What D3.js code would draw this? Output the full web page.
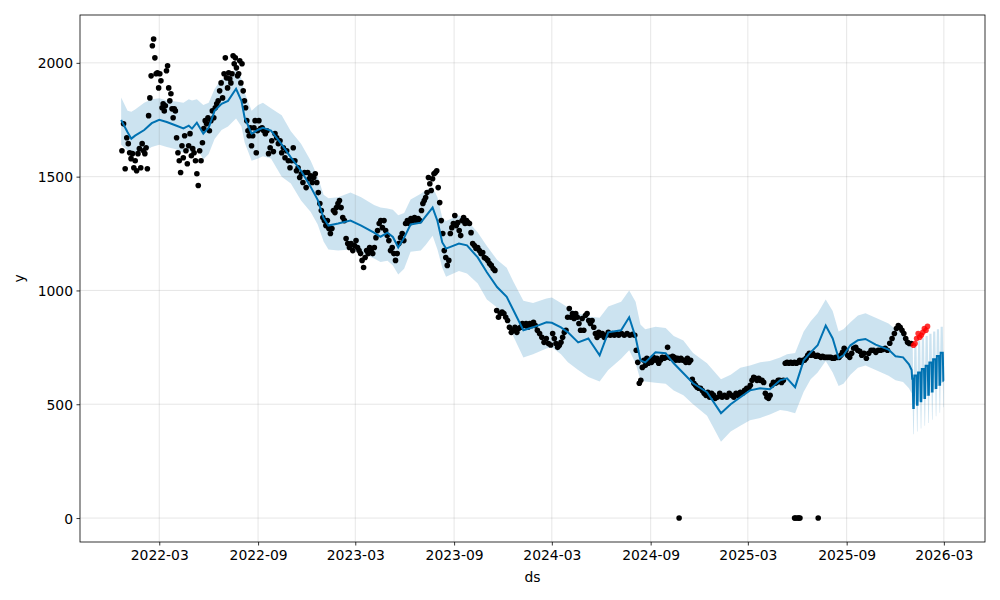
<!DOCTYPE html>
<html><head><meta charset="utf-8">
<script src="https://cdn.jsdelivr.net/npm/d3@7"></script>
<style>body{margin:0;background:#fff}svg{display:block}text{font-family:"DejaVu Sans",sans-serif;font-size:13.9px;fill:#000}</style>
</head><body><svg id="chart" width="1000" height="600"></svg>
<script>
// ---- fitted trend (history) ----
const trendDates = ["2021-12-20","2022-01-01","2022-01-08","2022-01-15","2022-02-01","2022-02-15","2022-03-01","2022-03-15","2022-04-01","2022-04-15","2022-04-25","2022-05-01","2022-05-10","2022-05-22","2022-06-01","2022-06-12","2022-06-25","2022-07-07","2022-07-22","2022-08-01","2022-08-07","2022-08-20","2022-09-01","2022-09-10","2022-09-25","2022-10-15","2022-11-01","2022-11-20","2022-12-08","2022-12-21","2023-01-01","2023-01-10","2023-01-28","2023-02-20","2023-03-12","2023-04-05","2023-04-17","2023-04-30","2023-05-10","2023-05-20","2023-05-31","2023-06-12","2023-07-01","2023-07-10","2023-07-23","2023-08-01","2023-08-10","2023-08-17","2023-09-10","2023-09-25","2023-10-15","2023-11-01","2023-11-20","2023-12-08","2023-12-20","2024-01-08","2024-01-26","2024-02-20","2024-03-01","2024-03-18","2024-03-31","2024-04-19","2024-05-08","2024-05-29","2024-06-14","2024-07-08","2024-07-23","2024-08-04","2024-08-13","2024-08-22","2024-09-10","2024-09-29","2024-10-14","2024-11-01","2024-11-19","2024-12-15","2025-01-10","2025-01-28","2025-02-15","2025-03-05","2025-03-24","2025-04-11","2025-04-30","2025-05-13","2025-05-28","2025-06-13","2025-06-26","2025-07-09","2025-07-24","2025-08-06","2025-08-17","2025-08-26","2025-09-08","2025-09-22","2025-10-06","2025-10-25","2025-11-18","2025-12-01","2025-12-15","2025-12-26","2025-12-31"];
const trendYhat = [1749,1695,1667,1680,1705,1735,1750,1740,1725,1712,
1724,1711,1737,1689,1715,1789,1820,1833,1886,1833,
1759,1689,1706,1715,1702,1642,1585,1526,1455,1398,
1318,1285,1294,1307,1285,1254,1236,1254,1235,1189,
1232,1290,1298,1325,1364,1305,1211,1184,1206,1198,
1145,1080,1015,972,915,825,838,860,858,838,
816,772,789,715,816,825,882,794,693,684,
728,724,680,636,592,553,461,500,531,561,
570,566,605,614,575,693,728,759,846,789,
702,715,759,781,787,762,740,711,706,675,
650];
const trendUpper = [1848,1790,1785,1795,1825,1840,1845,1835,1830,1825,
1840,1835,1840,1815,1825,1885,1930,1930,1975,1930,
1870,1790,1815,1825,1800,1770,1700,1645,1570,1500,
1420,1405,1410,1430,1410,1375,1365,1360,1355,1330,
1340,1400,1425,1440,1455,1410,1320,1305,1330,1310,
1255,1195,1135,1100,1040,955,945,965,969,945,
925,900,885,880,930,950,1000,950,850,830,
840,835,800,780,725,680,610,630,660,670,
685,690,705,720,725,820,865,900,960,910,
820,830,860,890,900,880,855,830,810,780,
752];
const trendLower = [1640,1615,1600,1605,1610,1630,1640,1630,1620,1605,
1615,1600,1625,1575,1600,1665,1705,1720,1755,1720,
1650,1570,1580,1590,1580,1500,1470,1395,1345,1290,
1215,1180,1175,1180,1165,1140,1125,1130,1110,1070,
1095,1170,1175,1200,1240,1180,1100,1060,1085,1075,
1030,960,925,870,800,705,720,745,750,720,
685,650,620,600,650,700,737,680,605,600,
595,590,560,540,500,450,335,380,405,430,
440,455,475,470,460,555,610,640,690,640,
580,590,630,660,670,650,625,605,598,570,
548];

// ---- forecast (daily, weekly pattern read per week starting Monday) ----
const fcWeekStart = "2025-12-29";
const fcFirstDay = "2026-01-01";
const fcLastDay = "2026-03-01";
const fcWeekdayYhat  = [612,626,640,655,669,683,698,712,726];
const fcWeekendYhat  = [484,498,513,527,542,556,571,586,603];
const fcWeekdayUpper = [752,765,778,790,800,810,820,830,840];
const fcWeekdayLower = [488,500,512,524,536,550,565,580,595];
const fcWeekendUpper = [610,620,632,645,658,670,682,695,708];
const fcWeekendLower = [368,380,393,405,418,432,447,463,487];

// ---- observed values, listed per period (trading days spread within period) ----
const pointPeriods = ["2021-12-20","2022-01-01","2022-02-01","2022-03-01","2022-04-01","2022-05-01","2022-06-01","2022-07-01","2022-08-01","2022-09-01","2022-10-01","2022-11-01","2022-12-01","2023-01-01","2023-02-01","2023-03-01","2023-04-01","2023-05-01","2023-06-01","2023-07-01","2023-08-01","2023-09-01","2023-10-01","2023-11-01","2023-12-01","2024-01-01","2024-02-01","2024-03-01","2024-04-01","2024-05-01","2024-06-01","2024-07-01","2024-08-01","2024-09-01","2024-10-01","2024-11-01","2024-12-01","2025-01-01","2025-02-01","2025-03-01","2025-04-01","2025-05-01","2025-06-01","2025-07-01","2025-08-01","2025-09-01","2025-10-01","2025-11-01","2025-12-01"];
const pointPeriodEnd = "2026-01-01";
const pointValues = [
[1614,1732,1535,1671],
[1645,1605,1579,1601,1539,1570,1526,1601,1623,1539,1645,1614],
[1601,1627,1535,1768,1846,1943,2075,2105,2022,1952,1956,1890],
[1952,1921,1803,1820,1789,1811,1965,1987,1890,1833,1864,1798,1759,1798,1789],
[1671,1605,1570,1518,1636,1583,1680,1614,1557,1636,1689,1592],
[1623,1605,1570,1513,1461,1614,1570,1649,1711,1746,1732,1759],
[1702,1746,1789,1759,1803,1820,1833,1877,1912,1846,1952],
[2022,1934,1890,1956,1930,1912,1952,2031,1996,2022,1978,1943,1952,2009,1912],
[1996,1877,1833,1803,1746,1702,1680,1715,1636,1680,1715,1746,1605,1702],
[1746,1711,1715,1702,1689,1702,1601,1627,1658,1610],
[1689,1671,1645,1658,1605,1627,1583,1614,1570,1539],
[1570,1627,1570,1526,1539,1496,1513,1474,1518,1452],
[1518,1491,1504,1474,1496,1513,1474,1430,1382,1351,1320],
[1307,1285,1307,1272,1250,1272,1351,1342,1364,1382,1395],
[1364,1320,1307,1228,1206,1189,1206,1175,1197],
[1219,1189,1175,1162,1132,1101,1145,1175,1162,1189,1175],
[1162,1189,1232,1263,1294,1307,1276,1307,1263,1241],
[1219,1175,1189,1162,1132,1162,1206,1232,1250,1219],
[1294,1307,1294,1316,1307,1320,1307,1316,1307],
[1351,1382,1395,1408,1430,1496,1469,1439,1491,1513,1518,1526],
[1452,1386,1307,1250,1175,1145,1110,1132,1250,1276,1294],
[1329,1285,1298,1263,1241,1307,1320,1294,1307,1298,1294],
[1254,1206,1197,1184,1189,1175,1162,1167,1145,1140],
[1132,1118,1110,1096,1088,912,882,899,905],
[899,882,868,838,816,825,838,816,833],
[838,855,846,855,838,855,846,860,846],
[825,811,794,772,789,767,760],
[811,789,767,750,759,772,794,816,825,882],
[921,882,899,877,899,882,855,825,877,825],
[890,899,868,855,868,838,811,794,816,803],
[811,794,803,816,803,811,803,811],
[803,811,803,811,803,807],
[803,737,684,592,605,662,693,671,702,680,693],
[684,706,693,702,680,693,706,702,706],
[750,706,702,711,706,693,702,693,702,693],
[693,684,702,684,693,610,592,583,575,570],
[570,560,548,539,553,531,548,540,526],
[531,548,531,539,531,548,539],
[531,548,539,553,548,561,570],
[570,583,605,618,614,605,614,605,605,596],
[548,531,526,539,583,596,592,596,605,605],
[596,605,680,684,680,684,680,684,680],
[684,693,684,693,693,702,715,724,715,724],
[715,711,715,711,706,711,706,706,706,706],
[706,702,702,706,706,706,715,728,746,737],
[715,706,724,746,750,737,733,715],
[724,702,724,737,737,728,737],
[737,741,746,737,768,789,811],
[833,846,838,825,811,789,772,767,767]
];
const zeroDates = ["2024-10-24","2025-05-27","2025-05-29","2025-06-02","2025-06-04","2025-06-06","2025-07-10"];

// ---- later observed values (red) ----
const testStart = "2026-01-02";
const testEnd = "2026-01-31";
const testValues = [759,767,789,811,794,803,816,833,825,842];

// ---- axis ticks ----
const xTickLabels = ["2022-03","2022-09","2023-03","2023-09","2024-03","2024-09","2025-03","2025-09","2026-03"];
const yTickValues = [0,500,1000,1500,2000];

// ================= drawing =================
const parse = d3.timeParse("%Y-%m-%d");
const L = 80, R = 985, T = 15, B = 542;
const svg = d3.select("#chart");

const hist = trendDates.map((d,i)=>({ds:parse(d), yhat:trendYhat[i], lo:trendLower[i], hi:trendUpper[i]}));
const fc = [];
const wk0 = parse(fcWeekStart);
for (let d = parse(fcFirstDay); d <= parse(fcLastDay); d = d3.timeDay.offset(d,1)) {
  const w = Math.floor(d3.timeDay.count(wk0, d)/7);
  const we = d.getDay()===0 || d.getDay()===6;
  fc.push({ds:d, yhat: we?fcWeekendYhat[w]:fcWeekdayYhat[w],
           lo: we?fcWeekendLower[w]:fcWeekdayLower[w],
           hi: we?fcWeekendUpper[w]:fcWeekdayUpper[w]});
}
const fcst = hist.concat(fc);

const pts = [];
pointPeriods.forEach((s,i)=>{
  const a = parse(s), b = parse(i+1<pointPeriods.length ? pointPeriods[i+1] : pointPeriodEnd);
  const vals = pointValues[i];
  vals.forEach((v,j)=>pts.push({ds:new Date(+a + (j+0.5)/vals.length*(b-a)), y:v}));
});
zeroDates.forEach(d=>pts.push({ds:parse(d), y:0}));
const tA = parse(testStart), tB = parse(testEnd);
const testPts = testValues.map((v,j)=>({ds:new Date(+tA + (j+0.5)/testValues.length*(tB-tA)), y:v}));

// autoscale with 5% margins like matplotlib
const allDates = fcst.map(d=>d.ds).concat(pts.map(d=>d.ds), testPts.map(d=>d.ds));
const [dx0, dx1] = d3.extent(allDates);
const xpad = (dx1-dx0)*0.05;
const allY = pts.map(d=>d.y).concat(testPts.map(d=>d.y), fcst.map(d=>d.lo), fcst.map(d=>d.hi));
const [vy0, vy1] = d3.extent(allY);
const ypad = (vy1-vy0)*0.05;

const x = d3.scaleTime().domain([new Date(+dx0-xpad), new Date(+dx1+xpad)]).range([L,R]);
const y = d3.scaleLinear().domain([vy0-ypad, vy1+ypad]).range([B,T]);

svg.append("clipPath").attr("id","clip").append("rect")
  .attr("x",L).attr("y",T).attr("width",R-L).attr("height",B-T);
const plot = svg.append("g").attr("clip-path","url(#clip)");

// band
plot.append("path").datum(fcst)
  .attr("d", d3.area().x(d=>x(d.ds)).y0(d=>y(d.lo)).y1(d=>y(d.hi)))
  .attr("fill","#0072B2").attr("fill-opacity",0.2).attr("stroke","none");

// grid
const xTicks = xTickLabels.map(s=>parse(s+"-01"));
plot.append("g").selectAll("line").data(xTicks).join("line")
  .attr("x1",d=>x(d)).attr("x2",d=>x(d)).attr("y1",T).attr("y2",B)
  .attr("stroke","gray").attr("stroke-opacity",0.2).attr("stroke-width",1);
plot.append("g").selectAll("line").data(yTickValues).join("line")
  .attr("y1",d=>y(d)).attr("y2",d=>y(d)).attr("x1",L).attr("x2",R)
  .attr("stroke","gray").attr("stroke-opacity",0.2).attr("stroke-width",1);

// observed points
plot.append("g").selectAll("circle").data(pts).join("circle")
  .attr("cx",d=>x(d.ds)).attr("cy",d=>y(d.y)).attr("r",2.8).attr("fill","#000");

// yhat line
plot.append("path").datum(fcst)
  .attr("d", d3.line().x(d=>x(d.ds)).y(d=>y(d.yhat)))
  .attr("fill","none").attr("stroke","#0072B2").attr("stroke-width",2);

// test points
plot.append("g").selectAll("circle").data(testPts).join("circle")
  .attr("cx",d=>x(d.ds)).attr("cy",d=>y(d.y)).attr("r",2.8).attr("fill","#ff0000").attr("fill-opacity",0.8);

// axes
const xAxis = d3.axisBottom(x).tickValues(xTicks).tickFormat(d3.timeFormat("%Y-%m")).tickSize(3.5).tickPadding(3.5);
const yAxis = d3.axisLeft(y).tickValues(yTickValues).tickFormat(d3.format("d")).tickSize(3.5).tickPadding(3.5);
const gx = svg.append("g").attr("transform",`translate(0,${B})`).call(xAxis);
const gy = svg.append("g").attr("transform",`translate(${L},0)`).call(yAxis);
[gx,gy].forEach(g=>{
  g.select(".domain").remove();
  g.selectAll(".tick line").attr("stroke","#000").attr("stroke-width",0.8);
  g.selectAll(".tick text").attr("font-family","DejaVu Sans").attr("font-size","13.9px").attr("fill","#000");
});
gx.selectAll(".tick text").attr("dy",null).attr("y",18);
gy.selectAll(".tick text").attr("dy","0.36em");

// frame
svg.append("rect").attr("x",L).attr("y",T).attr("width",R-L).attr("height",B-T)
  .attr("fill","none").attr("stroke","#000").attr("stroke-width",0.8);

// labels
svg.append("text").attr("x",(L+R)/2).attr("y",582).attr("text-anchor","middle").text("ds");
svg.append("text").attr("transform",`translate(24,${(T+B)/2}) rotate(-90)`).attr("text-anchor","middle").text("y");
</script></body></html>
